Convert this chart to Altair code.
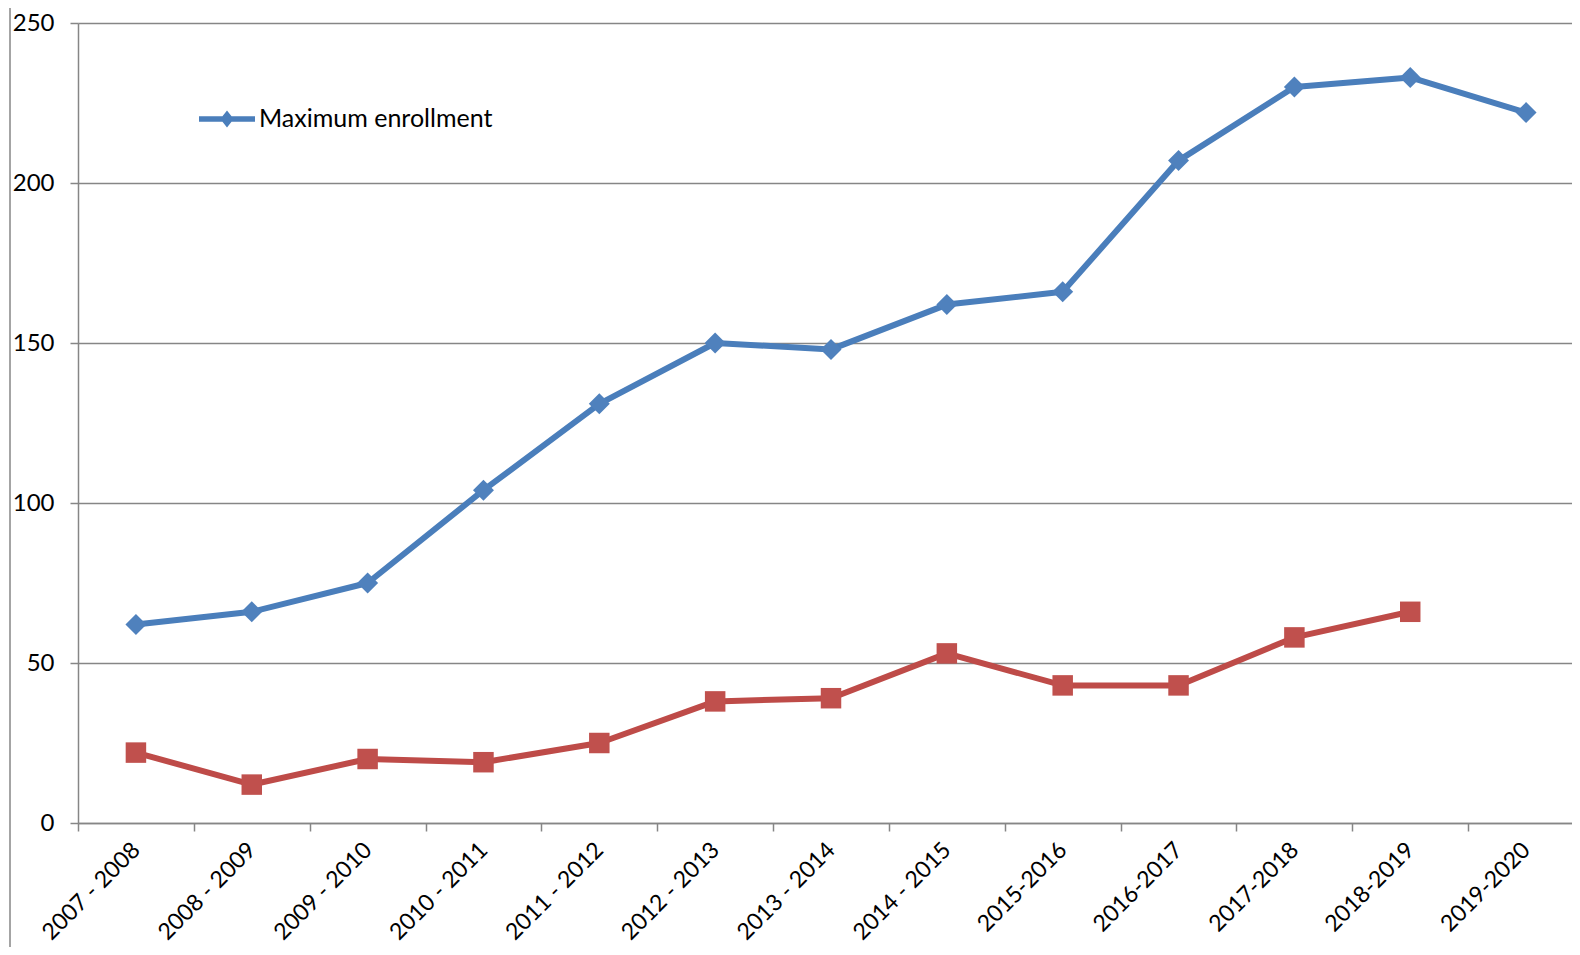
import altair as alt
import pandas as pd

categories = ["2007 - 2008", "2008 - 2009", "2009 - 2010", "2010 - 2011", "2011 - 2012",
              "2012 - 2013", "2013 - 2014", "2014 - 2015", "2015-2016", "2016-2017",
              "2017-2018", "2018-2019", "2019-2020"]
max_enrollment = [62, 66, 75, 104, 131, 150, 148, 162, 166, 207, 230, 233, 222]
second_series = [22, 12, 20, 19, 25, 38, 39, 53, 43, 43, 58, 66]
y_ticks = [0, 50, 100, 150, 200, 250]

BLUE_LINE = "#4A7EBB"
BLUE = "#4F81BD"
RED_LINE = "#BE4B48"
RED = "#C0504D"
GRAY = "#868686"
FONT = "Lato"

blue_df = pd.DataFrame({"year": categories, "value": max_enrollment,
                        "series": ["Maximum enrollment"] * len(categories)})
red_df = pd.DataFrame({"year": categories[:len(second_series)], "value": second_series})

x_enc = alt.X("year:N", sort=categories,
              scale=alt.Scale(type="band", domain=categories, paddingInner=0, paddingOuter=0,
                              range=[0, 1506]),
              axis=alt.Axis(title=None, tickBand="extent", labelAngle=315, labelAlign="right",
                            labelBaseline="middle", labelPadding=15, tickSize=8, grid=False,
                            labelFontSize=23))
y_enc = alt.Y("value:Q", scale=alt.Scale(domain=[0, 250], nice=False),
              axis=alt.Axis(title=None, values=y_ticks, grid=True, tickSize=8, labelPadding=16))

legend_path = "M-1,-0.1L1,-0.1L1,0.1L-1,0.1Z M0,-0.3L0.24,0L0,0.3L-0.24,0Z"

blue_line = alt.Chart(blue_df).mark_line(strokeWidth=6, strokeCap="round", strokeJoin="round").encode(
    x=x_enc, y=y_enc,
    color=alt.Color("series:N",
                    scale=alt.Scale(domain=["Maximum enrollment"], range=[BLUE_LINE]),
                    legend=alt.Legend(title=None, orient="none", legendX=121, legendY=68,
                                      symbolType=legend_path, symbolSize=3136,
                                      symbolFillColor=BLUE_LINE, symbolStrokeWidth=0,
                                      symbolOpacity=1, labelFont=FONT, labelFontSize=25,
                                      labelColor="black", labelOffset=4, labelLimit=1000,
                                      padding=0))
)
blue_pts = alt.Chart(blue_df).mark_point(shape="diamond", filled=True, size=440, color=BLUE, opacity=1).encode(
    x=x_enc, y=y_enc)
red_line = alt.Chart(red_df).mark_line(strokeWidth=6, strokeCap="round", strokeJoin="round", color=RED_LINE).encode(
    x=x_enc, y=y_enc)
red_pts = alt.Chart(red_df).mark_point(shape="square", filled=True, size=420, color=RED, opacity=1).encode(
    x=x_enc, y=y_enc)

border_df = pd.DataFrame({"k": [0]})
border_left = alt.Chart(border_df).mark_rule(color=GRAY, strokeWidth=1.5).encode(
    x=alt.value(-68), y=alt.value(-18), y2=alt.value(945))
border_top = alt.Chart(border_df).mark_rule(color=GRAY, strokeWidth=1.5).encode(
    x=alt.value(-68), x2=alt.value(1510), y=alt.value(-18))

chart = alt.layer(border_left, border_top, blue_line, red_line, blue_pts, red_pts).properties(
    width=1494, height=800, autosize="none",
    padding={"left": 70, "top": 15, "right": 0, "bottom": 124},
    background="white",
).configure_view(stroke=None).configure_axis(
    labelFont=FONT, labelFontSize=24, labelColor="black",
    domainColor=GRAY, domainWidth=1.5, tickColor=GRAY, tickWidth=1.5,
    gridColor=GRAY, gridWidth=1.5, gridOpacity=1,
)

chart.save("out.html", embed_options={"renderer": "svg", "actions": False})
